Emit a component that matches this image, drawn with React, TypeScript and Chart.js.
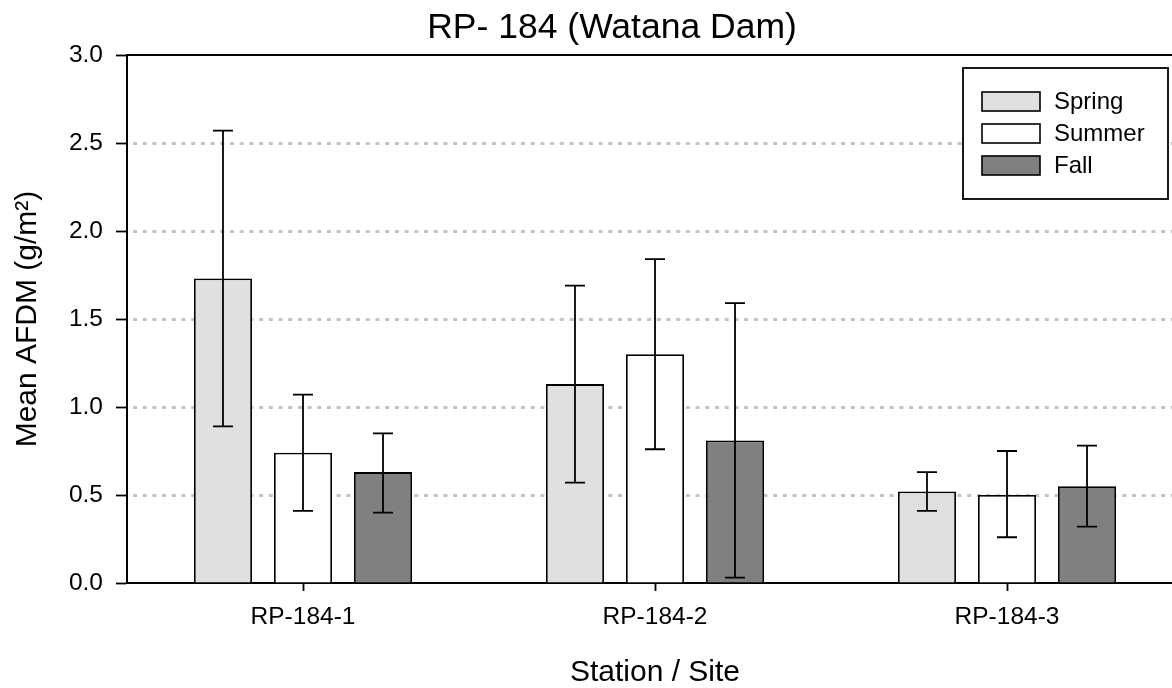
import React, { useEffect, useRef } from "react";
import { Chart, registerables } from "chart.js";

Chart.register(...registerables);

const categories = ["RP-184-1", "RP-184-2", "RP-184-3"];
const seriesLabels = ["Spring", "Summer", "Fall"];
const springMean = [1.73, 1.13, 0.52];
const springLow = [0.89, 0.57, 0.41];
const springHigh = [2.57, 1.69, 0.63];
const summerMean = [0.74, 1.3, 0.5];
const summerLow = [0.41, 0.76, 0.26];
const summerHigh = [1.07, 1.84, 0.75];
const fallMean = [0.63, 0.81, 0.55];
const fallLow = [0.4, 0.03, 0.32];
const fallHigh = [0.85, 1.59, 0.78];
const yTickValues = [0, 0.5, 1.0, 1.5, 2.0, 2.5, 3.0];
const chartTitle = "RP- 184 (Watana Dam)";

const FONT = "'Liberation Sans', Arial, Helvetica, sans-serif";
const seriesColors = ["#e0e0e0", "#ffffff", "#808080"];
const errLow = [springLow, summerLow, fallLow];
const errHigh = [springHigh, summerHigh, fallHigh];

const decorPlugin = {
  id: "decor",
  beforeDatasetsDraw(chart: any) {
    const { ctx, chartArea, scales } = chart;
    const y = scales.y;
    ctx.save();
    ctx.strokeStyle = "#c4c4c4";
    ctx.lineWidth = 3;
    ctx.setLineDash([4, 5.7]);
    for (const v of yTickValues) {
      if (v <= 0 || v >= 3) continue;
      const py = Math.round(y.getPixelForValue(v)) + 0.5;
      ctx.beginPath();
      ctx.moveTo(chartArea.left + 6, py);
      ctx.lineTo(chartArea.right, py);
      ctx.stroke();
    }
    ctx.setLineDash([]);
    ctx.strokeStyle = "#000";
    ctx.lineWidth = 2;
    const top = y.getPixelForValue(3);
    ctx.beginPath();
    ctx.moveTo(chartArea.left, top);
    ctx.lineTo(chartArea.right, top);
    ctx.stroke();
    ctx.restore();
  },
  afterDatasetsDraw(chart: any) {
    const { ctx, scales } = chart;
    const y = scales.y;
    ctx.save();
    ctx.strokeStyle = "#000";
    ctx.lineWidth = 1.8;
    chart.data.datasets.forEach((ds: any, di: number) => {
      const meta = chart.getDatasetMeta(di);
      meta.data.forEach((bar: any, i: number) => {
        const x = bar.x;
        const lo = y.getPixelForValue(errLow[di][i]);
        const hi = y.getPixelForValue(errHigh[di][i]);
        ctx.beginPath();
        ctx.moveTo(x, lo);
        ctx.lineTo(x, hi);
        ctx.moveTo(x - 10, lo);
        ctx.lineTo(x + 10, lo);
        ctx.moveTo(x - 10, hi);
        ctx.lineTo(x + 10, hi);
        ctx.stroke();
      });
    });
    ctx.restore();
  },
  afterDraw(chart: any) {
    const { ctx } = chart;
    ctx.save();
    // title
    ctx.fillStyle = "#000";
    ctx.font = `35.5px ${FONT}`;
    ctx.textAlign = "center";
    ctx.textBaseline = "middle";
    ctx.fillText(chartTitle, 612, 28);
    // legend
    const bx = 963, by = 68, bw = 205, bh = 131;
    ctx.fillStyle = "#fff";
    ctx.fillRect(bx, by, bw, bh);
    ctx.strokeStyle = "#000";
    ctx.lineWidth = 1.8;
    ctx.strokeRect(bx, by, bw, bh);
    ctx.font = `24px ${FONT}`;
    ctx.textBaseline = "middle";
    ctx.textAlign = "left";
    chart.data.datasets.forEach((ds: any, i: number) => {
      const cy = 101.5 + i * 32;
      ctx.fillStyle = ds.backgroundColor;
      ctx.fillRect(982, cy - 9.5, 58, 19);
      ctx.lineWidth = 1.6;
      ctx.strokeStyle = "#000";
      ctx.strokeRect(982, cy - 9.5, 58, 19);
      ctx.fillStyle = "#000";
      ctx.fillText(ds.label, 1054, cy + 1);
    });
    ctx.restore();
  },
};

export default function App() {
  const ref = useRef<HTMLCanvasElement | null>(null);
  useEffect(() => {
    if (!ref.current) return;
    const means = [springMean, summerMean, fallMean];
    const chart = new Chart(ref.current, {
      type: "bar",
      data: {
        labels: categories,
        datasets: seriesLabels.map((label, i) => ({
          label,
          data: means[i],
          backgroundColor: seriesColors[i],
          borderColor: "#000",
          borderWidth: 1.8,
          categoryPercentage: 0.682,
          barPercentage: 0.725,
        })),
      },
      options: {
        animation: false,
        responsive: false,
        devicePixelRatio: 1,
        layout: { padding: { left: 0, right: 41, top: 55, bottom: 0 } },
        plugins: {
          legend: { display: false },
          tooltip: { enabled: false },
          title: { display: false },
        },
        scales: {
          x: {
            grid: {
              display: true,
              drawOnChartArea: false,
              drawTicks: true,
              tickLength: 8,
              tickColor: "#000",
              tickWidth: 1.8,
              offset: false,
            },
            border: { display: true, color: "#000", width: 2 },
            ticks: {
              color: "#000",
              font: { family: FONT, size: 24.5 },
              padding: 12,
              maxRotation: 0,
            },
            title: {
              display: true,
              text: "Station / Site",
              color: "#000",
              font: { family: FONT, size: 30, lineHeight: 1 },
              padding: { top: 0, bottom: 0 },
            },
            afterFit: (s: any) => {
              s.height = 105;
            },
          },
          y: {
            min: 0,
            max: 3,
            grid: {
              display: true,
              drawOnChartArea: false,
              drawTicks: true,
              tickLength: 11,
              tickColor: "#000",
              tickWidth: 1.8,
            },
            border: { display: true, color: "#000", width: 2 },
            afterBuildTicks: (s: any) => {
              s.ticks = yTickValues.map((v) => ({ value: v }));
            },
            ticks: {
              color: "#000",
              font: { family: FONT, size: 24.5 },
              padding: 13,
              callback: (v: any) => Number(v).toFixed(1),
            },
            title: {
              display: true,
              text: "Mean AFDM (g/m\u00B2)",
              color: "#000",
              font: { family: FONT, size: 30, lineHeight: 1 },
              padding: { top: 13, bottom: 0 },
            },
            afterFit: (s: any) => {
              s.width = 127;
            },
          },
        },
      },
      plugins: [decorPlugin],
    });
    return () => chart.destroy();
  }, []);
  return (
    <div
      style={{
        position: "fixed",
        left: 0,
        top: 0,
        width: 1172,
        height: 688,
        overflow: "hidden",
        background: "#fff",
      }}
    >
      <canvas ref={ref} width={1224} height={688} style={{ display: "block", width: 1224, height: 688 }} />
    </div>
  );
}
